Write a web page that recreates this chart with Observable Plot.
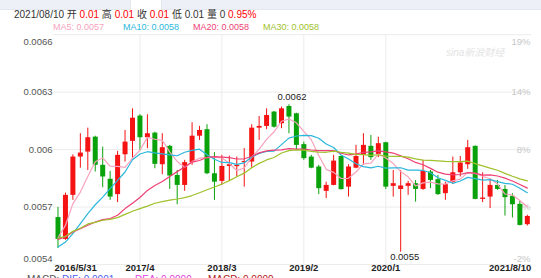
<!DOCTYPE html>
<html><head><meta charset="utf-8">
<script src="https://cdn.jsdelivr.net/npm/d3@7"></script>
<script src="https://cdn.jsdelivr.net/npm/@observablehq/plot@0.6"></script>
<style>
body{margin:0;width:541px;height:278px;overflow:hidden;background:#fff;font-family:"Liberation Sans",Arial,"Noto Sans CJK SC",sans-serif;position:relative}
#tabs{position:absolute;left:0;top:0;width:541px;height:9px;background:#edf1f7;border-bottom:1px solid #e3e8f0}
#tab{position:absolute;left:130px;top:0;width:30px;height:10px;background:#fff;border-left:1px solid #e3e8f0;border-right:1px solid #e3e8f0}
#hd{position:absolute;left:14px;top:9px;font-size:10px;line-height:12px;color:#333;white-space:nowrap}
#hd .r{color:#f00}
#lg{position:absolute;left:53px;top:21px;font-size:9px;line-height:12px;white-space:nowrap}
#lg span,#macd span{position:absolute;top:0}
#macd{position:absolute;left:0;top:274px;font-size:10px;line-height:12px;white-space:nowrap}
#wm{position:absolute;left:446px;top:44px;font-size:10px;font-style:italic;color:#e4e4e4}
#chart{position:absolute;left:0;top:31px}
</style></head><body>
<div id="tabs"><div id="tab"></div></div>
<div id="hd">2021/08/10 开 <span class="r">0.01</span> 高 <span class="r">0.01</span> 收 <span class="r">0.01</span> 低 0.01 量 0 <span class="r">0.95%</span></div>
<div id="lg"></div>
<div id="wm">sina新浪财经</div>
<div id="chart"></div>
<div id="macd"></div>
<script>
const months = ["2016/5","2016/6","2016/7","2016/8","2016/9","2016/10","2016/11","2016/12",
"2017/1","2017/2","2017/3","2017/4","2017/5","2017/6","2017/7","2017/8","2017/9","2017/10","2017/11","2017/12",
"2018/1","2018/2","2018/3","2018/4","2018/5","2018/6","2018/7","2018/8","2018/9","2018/10","2018/11","2018/12",
"2019/1","2019/2","2019/3","2019/4","2019/5","2019/6","2019/7","2019/8","2019/9","2019/10","2019/11","2019/12",
"2020/1","2020/2","2020/3","2020/4","2020/5","2020/6","2020/7","2020/8","2020/9","2020/10","2020/11","2020/12",
"2021/1","2021/2","2021/3","2021/4","2021/5","2021/6","2021/7","2021/8"];

const open = [0.005645,0.005531,0.005761,0.005961,0.005987,0.006065,0.005918,0.005845,0.005765,0.005973,
0.006043,0.006175,0.006062,0.006086,0.005921,0.006017,0.005865,0.005813,0.005932,0.006070,
0.006104,0.005874,0.005834,0.005912,0.005911,0.005932,0.005935,0.006112,0.006121,0.006196,
0.006135,0.006225,0.006187,0.006026,0.005961,0.005909,0.005782,0.005813,0.005964,0.005804,
0.005903,0.005970,0.006017,0.005975,0.006036,0.005808,0.005792,0.005808,0.005822,0.005792,
0.005883,0.005843,0.005770,0.005829,0.005879,0.005921,0.006017,0.005740,0.005752,0.005813,
0.005792,0.005756,0.005714,0.005608];
const high = [0.005698,0.005773,0.005973,0.006083,0.006112,0.006070,0.006013,0.005886,0.005991,0.006100,
0.006213,0.006182,0.006182,0.006091,0.006083,0.006022,0.005891,0.005944,0.006140,0.006121,
0.006130,0.005984,0.005970,0.005966,0.005961,0.006005,0.006130,0.006173,0.006213,0.006199,
0.006222,0.006234,0.006190,0.006039,0.005970,0.005918,0.005830,0.005970,0.005966,0.005921,
0.006022,0.006083,0.006074,0.006065,0.006038,0.005891,0.005891,0.005834,0.005839,0.005944,
0.005891,0.005865,0.005830,0.005961,0.005964,0.006048,0.006019,0.005879,0.005848,0.005839,
0.005813,0.005770,0.005731,0.005657];
const low = [0.005484,0.005526,0.005735,0.005903,0.005891,0.005883,0.005801,0.005735,0.005723,0.005935,
0.005956,0.005992,0.006005,0.005900,0.005869,0.005792,0.005712,0.005782,0.005918,0.006048,
0.005869,0.005735,0.005813,0.005834,0.005857,0.005804,0.005903,0.006048,0.006104,0.006112,
0.006109,0.006083,0.005996,0.005944,0.005900,0.005765,0.005744,0.005811,0.005789,0.005752,
0.005900,0.005918,0.005944,0.005958,0.005792,0.005752,0.005464,0.005761,0.005726,0.005787,
0.005796,0.005761,0.005735,0.005818,0.005857,0.005897,0.005738,0.005723,0.005692,0.005787,
0.005653,0.005643,0.005601,0.005601];
const close = [0.005531,0.005761,0.005961,0.005982,0.006062,0.005918,0.005857,0.005752,0.005970,0.006039,
0.006164,0.006062,0.006083,0.005923,0.006010,0.005862,0.005813,0.005932,0.006070,0.006100,
0.005874,0.005830,0.005912,0.005921,0.005918,0.005938,0.006112,0.006121,0.006178,0.006117,
0.006213,0.006170,0.006022,0.005953,0.005903,0.005796,0.005813,0.005940,0.005791,0.005909,
0.005964,0.006022,0.005958,0.006031,0.005804,0.005822,0.005810,0.005822,0.005792,0.005886,
0.005839,0.005765,0.005817,0.005879,0.005930,0.006010,0.005740,0.005747,0.005813,0.005792,
0.005749,0.005712,0.005604,0.005651];

const ma5 = [0.005540,0.005604,0.005718,0.005778,0.005859,0.005937,0.005956,0.005914,0.005912,0.005907,
0.005956,0.005997,0.006064,0.006054,0.006048,0.005988,0.005938,0.005908,0.005937,0.005955,
0.005958,0.005961,0.005957,0.005927,0.005891,0.005904,0.005960,0.006002,0.006053,0.006093,
0.006148,0.006160,0.006140,0.006095,0.006052,0.005969,0.005897,0.005881,0.005849,0.005850,
0.005883,0.005925,0.005929,0.005977,0.005956,0.005927,0.005885,0.005858,0.005810,0.005826,
0.005830,0.005821,0.005820,0.005837,0.005846,0.005880,0.005875,0.005861,0.005848,0.005820,
0.005768,0.005763,0.005734,0.005702];
const ma10 = [0.005491,0.005517,0.005561,0.005613,0.005666,0.005712,0.005752,0.005796,0.005839,0.005883,
0.005947,0.005977,0.005989,0.005983,0.005978,0.005972,0.005968,0.005986,0.005996,0.006002,
0.005973,0.005950,0.005933,0.005932,0.005923,0.005931,0.005961,0.005980,0.005990,0.005992,
0.006026,0.006060,0.006071,0.006074,0.006073,0.006059,0.006029,0.006011,0.005972,0.005951,
0.005926,0.005911,0.005905,0.005913,0.005903,0.005905,0.005905,0.005893,0.005893,0.005891,
0.005879,0.005853,0.005839,0.005824,0.005836,0.005855,0.005848,0.005841,0.005843,0.005833,
0.005824,0.005819,0.005798,0.005775];
const ma20 = [0.005531,0.005544,0.005570,0.005587,0.005605,0.005622,0.005634,0.005640,0.005657,0.005692,
0.005720,0.005750,0.005787,0.005813,0.005833,0.005860,0.005885,0.005909,0.005935,0.005943,
0.005960,0.005963,0.005961,0.005958,0.005951,0.005952,0.005964,0.005983,0.005993,0.005997,
0.005999,0.006005,0.006002,0.006003,0.005998,0.005995,0.005995,0.005995,0.005981,0.005972,
0.005976,0.005986,0.005988,0.005993,0.005988,0.005982,0.005967,0.005952,0.005933,0.005921,
0.005902,0.005882,0.005872,0.005868,0.005870,0.005880,0.005877,0.005867,0.005868,0.005862,
0.005851,0.005836,0.005818,0.005799];
const ma30 = [0.005537,0.005547,0.005573,0.005589,0.005612,0.005620,0.005631,0.005636,0.005645,0.005662,
0.005678,0.005692,0.005705,0.005720,0.005728,0.005736,0.005742,0.005749,0.005760,0.005775,
0.005790,0.005805,0.005820,0.005838,0.005858,0.005877,0.005905,0.005928,0.005946,0.005959,
0.005982,0.005995,0.005998,0.005997,0.005991,0.005987,0.005986,0.005992,0.005986,0.005982,
0.005975,0.005974,0.005970,0.005973,0.005966,0.005965,0.005965,0.005961,0.005952,0.005945,
0.005944,0.005941,0.005938,0.005937,0.005937,0.005940,0.005927,0.005915,0.005903,0.005892,
0.005876,0.005861,0.005847,0.005837];

const yTicks = [0.0066, 0.0063, 0.006, 0.0057, 0.0054];
const yLabels = ["0.0066", "0.0063", "0.006", "0.0057", "0.0054"];
const pctLabels = ["19%", "14%", "8%", "3%", "-2%"];
const xTickIdx = [0, 11, 22, 33, 44, 63];
const xTickLabels = ["2016/5/31", "2017/4", "2018/3", "2019/2", "2020/1", "2021/8/10"];
const xGridIdx = [11, 22, 33, 44];

const maNames = ["MA5", "MA10", "MA20", "MA30"];
const maValues = ["0.0057", "0.0058", "0.0058", "0.0058"];
const maColors = ["#f7a3bd", "#2bb7dc", "#ef3f74", "#9fc12c"];

const macdNames = ["MACD:", "DIF: 0.0001", "DEA: 0.0000", "MACD: 0.0000"];
const macdColors = ["#555", "#4a5ff0", "#e042e0", "#b01818"];

const RED = "#f41212", GREEN = "#0aa20a";

const candles = months.map((m, i) => ({i, m, open: open[i], high: high[i], low: low[i], close: close[i]}));
const maSeries = [ma5, ma10, ma20, ma30].flatMap((arr, k) => arr.map((v, i) => ({i, v, k})));
const axisRows = yTicks.map((v, i) => ({v, left: yLabels[i], right: pctLabels[i]}));
const xRows = xTickIdx.map((i, k) => ({i, label: xTickLabels[k]}));
const maxC = candles.reduce((a, b) => b.high > a.high ? b : a);
const minC = candles.reduce((a, b) => b.low < a.low ? b : a);
const col = d => d.close >= d.open ? RED : GREEN;

// legend
const lg = document.getElementById("lg");
maNames.forEach((n, k) => {
  const s = document.createElement("span");
  s.style.left = (k * 70) + "px";
  s.style.color = maColors[k];
  s.textContent = n + ": " + maValues[k];
  lg.appendChild(s);
});
const mc = document.getElementById("macd");
const macdLeft = [27, 62, 135, 208];
macdNames.forEach((n, k) => {
  const s = document.createElement("span");
  s.style.left = macdLeft[k] + "px";
  s.style.color = macdColors[k];
  s.textContent = n;
  mc.appendChild(s);
});

const isTop = d => d.v === 0.0066, isBot = d => d.v === 0.0054, isMid = d => !isTop(d) && !isBot(d);
const fs = 9.5;

const chart = Plot.plot({
  width: 541, height: 260,
  marginLeft: 53, marginRight: 10, marginTop: 3.2, marginBottom: 27,
  x: {type: "linear", domain: [-0.604, 63.56], axis: null},
  y: {domain: [0.0054, 0.0066], axis: null},
  style: {fontFamily: "Liberation Sans, Arial, sans-serif", fontSize: fs + "px", background: "transparent", overflow: "visible"},
  marks: [
    Plot.ruleY(yTicks, {stroke: "#ececec"}),
    Plot.ruleX(xGridIdx, {stroke: "#ececec"}),
    // right percentage labels
    Plot.text(axisRows.filter(isMid), {y: "v", text: "right", frameAnchor: "right", textAnchor: "end", dx: -1, fill: "#c6c6c6"}),
    Plot.text(axisRows.filter(isTop), {y: "v", text: "right", frameAnchor: "right", textAnchor: "end", dx: -1, dy: 7, fill: "#c6c6c6"}),
    Plot.text(axisRows.filter(isBot), {y: "v", text: "right", frameAnchor: "right", textAnchor: "end", dx: -1, dy: -6, fill: "#c6c6c6"}),
    // left price labels
    Plot.text(axisRows.filter(isMid), {y: "v", text: "left", frameAnchor: "left", textAnchor: "end", dx: -1, fill: "#555"}),
    Plot.text(axisRows.filter(isTop), {y: "v", text: "left", frameAnchor: "left", textAnchor: "end", dx: -1, dy: 7, fill: "#555"}),
    Plot.text(axisRows.filter(isBot), {y: "v", text: "left", frameAnchor: "left", textAnchor: "end", dx: -1, dy: -6, fill: "#555"}),
    // candles
    Plot.ruleX(candles, {x: "i", y1: "low", y2: "high", stroke: col, strokeWidth: 1}),
    Plot.ruleX(candles, {x: "i", y1: "open", y2: "close", stroke: col, strokeWidth: 5}),
    // moving averages
    Plot.line(maSeries, {x: "i", y: "v", z: "k", stroke: d => maColors[d.k], strokeWidth: 1.2}),
    // extremes
    Plot.text([maxC], {x: "i", y: "high", text: d => d.high.toFixed(4), dx: 3, dy: -8, fill: "#222"}),
    Plot.text([minC], {x: "i", y: "low", text: d => d.low.toFixed(4), dx: 4, dy: 5, fill: "#222"}),
    // x labels
    Plot.text(xRows.slice(0, 1), {x: "i", text: "label", frameAnchor: "bottom", textAnchor: "start", dx: -3.5, dy: 6, fill: "#222", fontWeight: "bold"}),
    Plot.text(xRows.slice(1, -1), {x: "i", text: "label", frameAnchor: "bottom", dy: 6, fill: "#222", fontWeight: "bold"}),
    Plot.text(xRows.slice(-1), {x: "i", text: "label", frameAnchor: "bottom", textAnchor: "end", dx: 4, dy: 6, fill: "#222", fontWeight: "bold"})
  ]
});
document.getElementById("chart").appendChild(chart);
</script>
</body></html>
